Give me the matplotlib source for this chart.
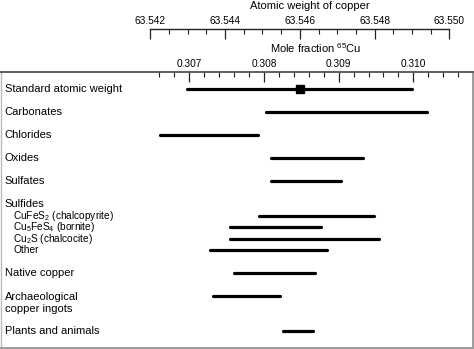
import numpy as np
import matplotlib
matplotlib.use("Agg")
import matplotlib.pyplot as plt
import matplotlib.transforms as mtransforms

plt.rcParams['font.family'] = ['Liberation Sans', 'DejaVu Sans']
plt.rcParams['mathtext.fontset'] = 'custom'
plt.rcParams['mathtext.rm'] = 'Liberation Sans'
plt.rcParams['mathtext.it'] = 'Liberation Sans:italic'

# ranges of mole fraction of 65Cu
labels = ["Standard atomic weight", "Carbonates", "Chlorides", "Oxides", "Sulfates",
          "Sulfides",
          r"CuFeS$_{\mathrm{2}}$ (chalcopyrite)",
          r"Cu$_{\mathrm{5}}$FeS$_{\mathrm{4}}$ (bornite)",
          r"Cu$_{\mathrm{2}}$S (chalcocite)",
          "Other",
          "Native copper", "Archaeological\ncopper ingots", "Plants and animals"]
lo = [0.30697, 0.30803, 0.30661, 0.30809, 0.30809, None,
      0.30794, 0.30755, 0.30754, 0.30728, 0.30760, 0.30732, 0.30825]
hi = [0.30998, 0.31018, 0.30792, 0.30932, 0.30903, None,
      0.30948, 0.30877, 0.30954, 0.30884, 0.30869, 0.30822, 0.30865]
std_value = 0.30848

# layout of the rows (sub-rows for sulfides are half spaced)
rows = [0, 1, 2, 3, 4, 5, 5.5, 6, 6.5, 7, 8, 9, 10.5]
indent = [False]*6 + [True]*4 + [False]*3

aw_major = [63.542, 63.544, 63.546, 63.548, 63.550]
mf_major = [0.307, 0.308, 0.309, 0.310]

M63 = 62.9295975
M65 = 64.9277895
def to_aw(x):
    return M63 + (M65 - M63)*np.asarray(x)

W, H = 474, 349
fig = plt.figure(figsize=(W/100, H/100), dpi=100)

top_px = 72.0
bot_px = 347.7
ax = fig.add_axes([0.5/W, (H-bot_px)/H, 472.2/W, (bot_px-top_px)/H])
xlim = (0.304472, 0.310795)
ax.set_xlim(xlim)
ax.set_ylim(11.24, -0.74)
trans = mtransforms.blended_transform_factory(ax.transAxes, ax.transData)

for i in range(len(labels)):
    y = rows[i]
    if lo[i] is not None:
        ax.plot([lo[i], hi[i]], [y, y], color='black', lw=2.3, solid_capstyle='round')
    x0 = 12.7/472 if indent[i] else 4/472
    fs = 7.3 if indent[i] else 8
    if "\n" in labels[i]:
        #two line label: first line sits on the bar
        ax.text(x0, y+0.29, labels[i], transform=trans,
                fontsize=fs, va='center', ha='left', linespacing=1.2)
    else:
        ax.text(x0, y, labels[i], transform=trans,
                fontsize=fs, va='center', ha='left')
ax.plot([std_value], [rows[0]], marker='s', color='black', markersize=5.8)

ax.set_yticks([])
ax.xaxis.set_ticks_position('top')
ax.xaxis.set_label_position('top')
ax.set_xticks(mf_major)
ax.set_xticklabels(["%.3f" % v for v in mf_major])
minor = [v for v in np.round(np.arange(0.3066, 0.31065, 0.0002), 4) if round(v*1000, 4) % 1 != 0]
ax.set_xticks(minor, minor=True)
ax.tick_params(axis='x', which='major', direction='in', length=7, width=0.9, pad=2, labelsize=7.3, color='#222222')
ax.tick_params(axis='x', which='minor', direction='in', length=3.5, width=0.8, color='#222222')
ax.spines['top'].set_color('#444444')
ax.spines['top'].set_linewidth(1.2)
for s in ['right', 'bottom']:
    ax.spines[s].set_color('#999999')
    ax.spines[s].set_linewidth(2)
ax.spines['left'].set_color('#bbbbbb')
ax.spines['left'].set_linewidth(1)

# atomic weight axis on top
aw_px = 29.0
ax2 = fig.add_axes([0.5/W, (H-aw_px-10)/H, 472.2/W, 10/H])
ax2.set_xlim(to_aw(xlim[0]), to_aw(xlim[1]))
ax2.set_ylim(0, 1)
ax2.patch.set_visible(False)
for s in ['left', 'right', 'bottom']:
    ax2.spines[s].set_visible(False)
ax2.spines['top'].set_bounds(aw_major[0], aw_major[-1])
ax2.spines['top'].set_linewidth(1)
ax2.spines['top'].set_color('#222222')
ax2.set_yticks([])
ax2.xaxis.set_ticks_position('top')
ax2.set_xticks(aw_major)
ax2.set_xticklabels(["%.3f" % v for v in aw_major])
ax2.set_xticks(np.round(np.arange(63.5425, 63.5500, 0.0005), 4), minor=True)
ax2.tick_params(axis='x', which='major', direction='in', length=7, width=0.9, pad=2, labelsize=7.3, color='#222222')
ax2.tick_params(axis='x', which='minor', direction='in', length=3.5, width=0.8, color='#222222')

fig.text(309.7/W, 1-6/H, "Atomic weight of copper", fontsize=8, ha='center', va='center')
fig.text(315.5/W, 1-48.5/H, r"Mole fraction $^{\mathrm{65}}$Cu", fontsize=8, ha='center', va='center')

fig.savefig("out.png", dpi=100)
